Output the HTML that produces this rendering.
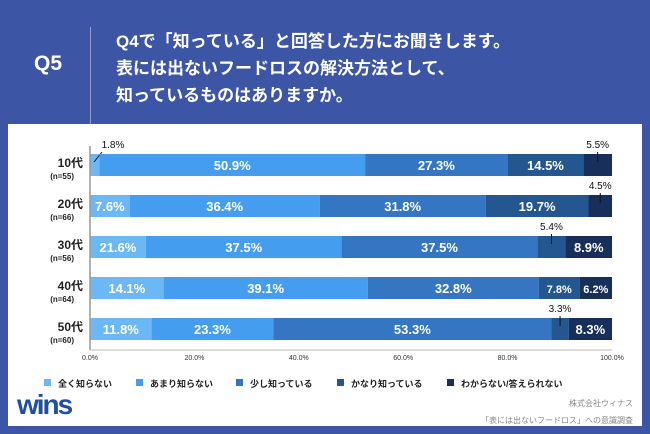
<!DOCTYPE html>
<html><head><meta charset="utf-8">
<style>
body{margin:0;width:650px;height:434px;background:#3c55a5;font-family:"Liberation Sans","Noto Sans CJK JP",sans-serif;overflow:hidden;position:relative}
.t{position:absolute;color:#fff;font-weight:bold}
</style></head><body>
<div class="t" style="left:34px;top:52px;font-size:21px">Q5</div>
<div style="position:absolute;left:90px;top:27px;width:1px;height:104px;background:#8c9bd0"></div>
<div class="t" style="left:116px;top:28px;font-size:17px;line-height:27px">Q4で「知っている」と回答した方にお聞きします。<br>表には出ないフードロスの解決方法として、<br>知っているものはありますか。</div>
<div style="position:absolute;left:8px;top:124px;width:634px;height:302px;background:#fff"></div>
<svg id="c" width="650" height="434" style="position:absolute;left:0;top:0" font-family="Liberation Sans, Noto Sans CJK JP, sans-serif"></svg>
<script>
const categories=["10代","20代","30代","40代","50代"];
const ns=["(n=55)","(n=66)","(n=56)","(n=64)","(n=60)"];
const seriesNames=["全く知らない","あまり知らない","少し知っている","かなり知っている","わからない/答えられない"];
const s1=[1.8,7.6,10.7,14.1,11.8];
const s1Labels=["1.8%","7.6%","21.6%","14.1%","11.8%"];
const s2=[50.9,36.4,37.5,39.1,23.3];
const s3=[27.3,31.8,37.5,32.8,53.3];
const s4=[14.5,19.7,5.4,7.8,3.3];
const s5=[5.5,4.5,8.9,6.2,8.3];
const ticks=[0,20,40,60,80,100];
const colors=["#6cb8f4","#459df0","#3476c2","#24568f","#172f5a"];
const series=[s1,s2,s3,s4,s5];
const svg=document.getElementById('c');
const NS="http://www.w3.org/2000/svg";
const x=v=>90+v*5.22;
const y=i=>154+i*41;
function mk(t,a,p){const e=document.createElementNS(NS,t);for(const k in a)e.setAttribute(k,a[k]);(p||svg).appendChild(e);return e;}
ticks.forEach(t=>{const e=mk('text',{x:x(t),y:360,'font-size':7,'text-anchor':'middle',fill:'#333'});e.textContent=t.toFixed(1)+'%';

});
categories.forEach((c,i)=>{
 const l=mk('text',{x:83,y:y(i)+13,'font-size':12,'font-weight':'bold','text-anchor':'end',fill:'#222'});l.textContent=c;
 
 
 const n=mk('text',{x:74,y:y(i)+25,'font-size':8,'font-weight':'bold','text-anchor':'end',fill:'#222'});n.textContent=ns[i];
 
 
 let acc=0;
 series.forEach((s,j)=>{
  const v=s[i];const r=mk('rect',{x:x(acc),y:y(i),width:x(acc+v)-x(acc),height:22,fill:colors[j]});
  
  
  const cx=(x(acc)+x(acc+v))/2;
  const lab=j==0?s1Labels[i]:v.toFixed(1)+'%';
  if(v>=6){const t=mk('text',{x:cx,y:y(i)+16,'font-size':(v<8&&j>=3)?11:13,'font-weight':'bold','text-anchor':'middle',fill:'#fff'});t.textContent=lab;
   
   }
  else{
   const lx=j==0?107:cx;
   mk('line',{x1:j==0?x(acc)+4:cx,y1:y(i)+8,x2:j==0?102:cx,y2:y(i)-2,stroke:'#111','stroke-width':1});
   const t=mk('text',{x:lx+(j==0?6:0),y:y(i)-6,'font-size':10,'text-anchor':'middle',fill:'#111'});t.textContent=lab;
   
   }
  acc+=v;});
});
const ax=mk('line',{x1:90,y1:146,x2:90,y2:350,stroke:'#999','stroke-width':1.5});


const bx=mk('line',{x1:90,y1:350,x2:612,y2:350,stroke:'#bbb','stroke-width':1});


const lx=[44,136,236,337,447];
seriesNames.forEach((s,j)=>{
 const g=mk('g',{});
 
 
 mk('rect',{x:lx[j],y:379,width:7,height:7,fill:colors[j]},g);
 const t=mk('text',{x:lx[j]+14,y:387,'font-size':9,'font-weight':'bold',fill:'#222'},g);t.textContent=s;});
</script>
<div style="position:absolute;left:17px;top:389px;font-size:28px;font-weight:bold;color:#1f4fa0;letter-spacing:-2px;font-family:'Liberation Sans',sans-serif">wins</div>
<div style="position:absolute;right:17px;top:395px;font-size:8px;color:#888;text-align:right;line-height:17px">株式会社ウィナス<br>「表には出ないフードロス」への意識調査</div>
</body></html>
